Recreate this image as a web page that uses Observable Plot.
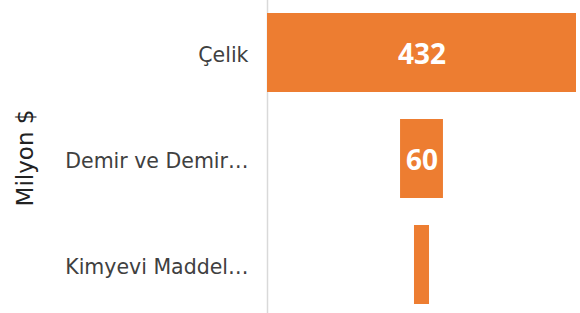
<!DOCTYPE html>
<html>
<head>
<meta charset="utf-8">
<script src="https://cdn.jsdelivr.net/npm/d3@7"></script>
<script src="https://cdn.jsdelivr.net/npm/@observablehq/plot@0.6"></script>
<style>
  html, body { margin: 0; padding: 0; background: #fff; }
  svg { display: block; }
</style>
</head>
<body>
<div id="chart"></div>
<script>
const categories = ["Çelik", "Demir ve Demir…", "Kimyevi Maddel…"];
const values = [432, 60, 21];
const axisTitle = "Milyon $";

const data = categories.map((c, i) => ({cat: c, value: values[i]}));
const maxV = d3.max(values);

const chart = Plot.plot({
  width: 580,
  height: 313,
  marginLeft: 267,
  marginRight: 4,
  marginTop: 0,
  marginBottom: 0,
  style: {fontFamily: "'DejaVu Sans', sans-serif", background: "#fff"},
  x: {domain: [-maxV / 2, maxV / 2], axis: null},
  y: {domain: categories, range: [12.7, 304], paddingInner: 0.257, paddingOuter: 0, label: null},
  marks: [
    Plot.frame({anchor: "left", stroke: "#d9d9d9", strokeWidth: 1.5}),
    Plot.barX(data, {y: "cat", x1: d => -d.value / 2, x2: d => d.value / 2, fill: "#ED7D31"}),
    Plot.text(data.filter(d => d.value >= 30), {
      y: "cat", x: 0, text: d => String(d.value), dy: 2,
      fill: "white", fontWeight: "bold", fontSize: 28,
      fontFamily: "'Open Sans', sans-serif"
    }),
    Plot.axisY({tickSize: 0, tickPadding: 19, fontSize: 20.5, dy: 2, color: "#404040", label: null}),
    Plot.text([axisTitle], {frameAnchor: "left", textAnchor: "middle", dx: -242, dy: 1, rotate: -90, fontSize: 23, fill: "#222"})
  ]
});
document.getElementById("chart").appendChild(chart);
</script>
</body>
</html>
